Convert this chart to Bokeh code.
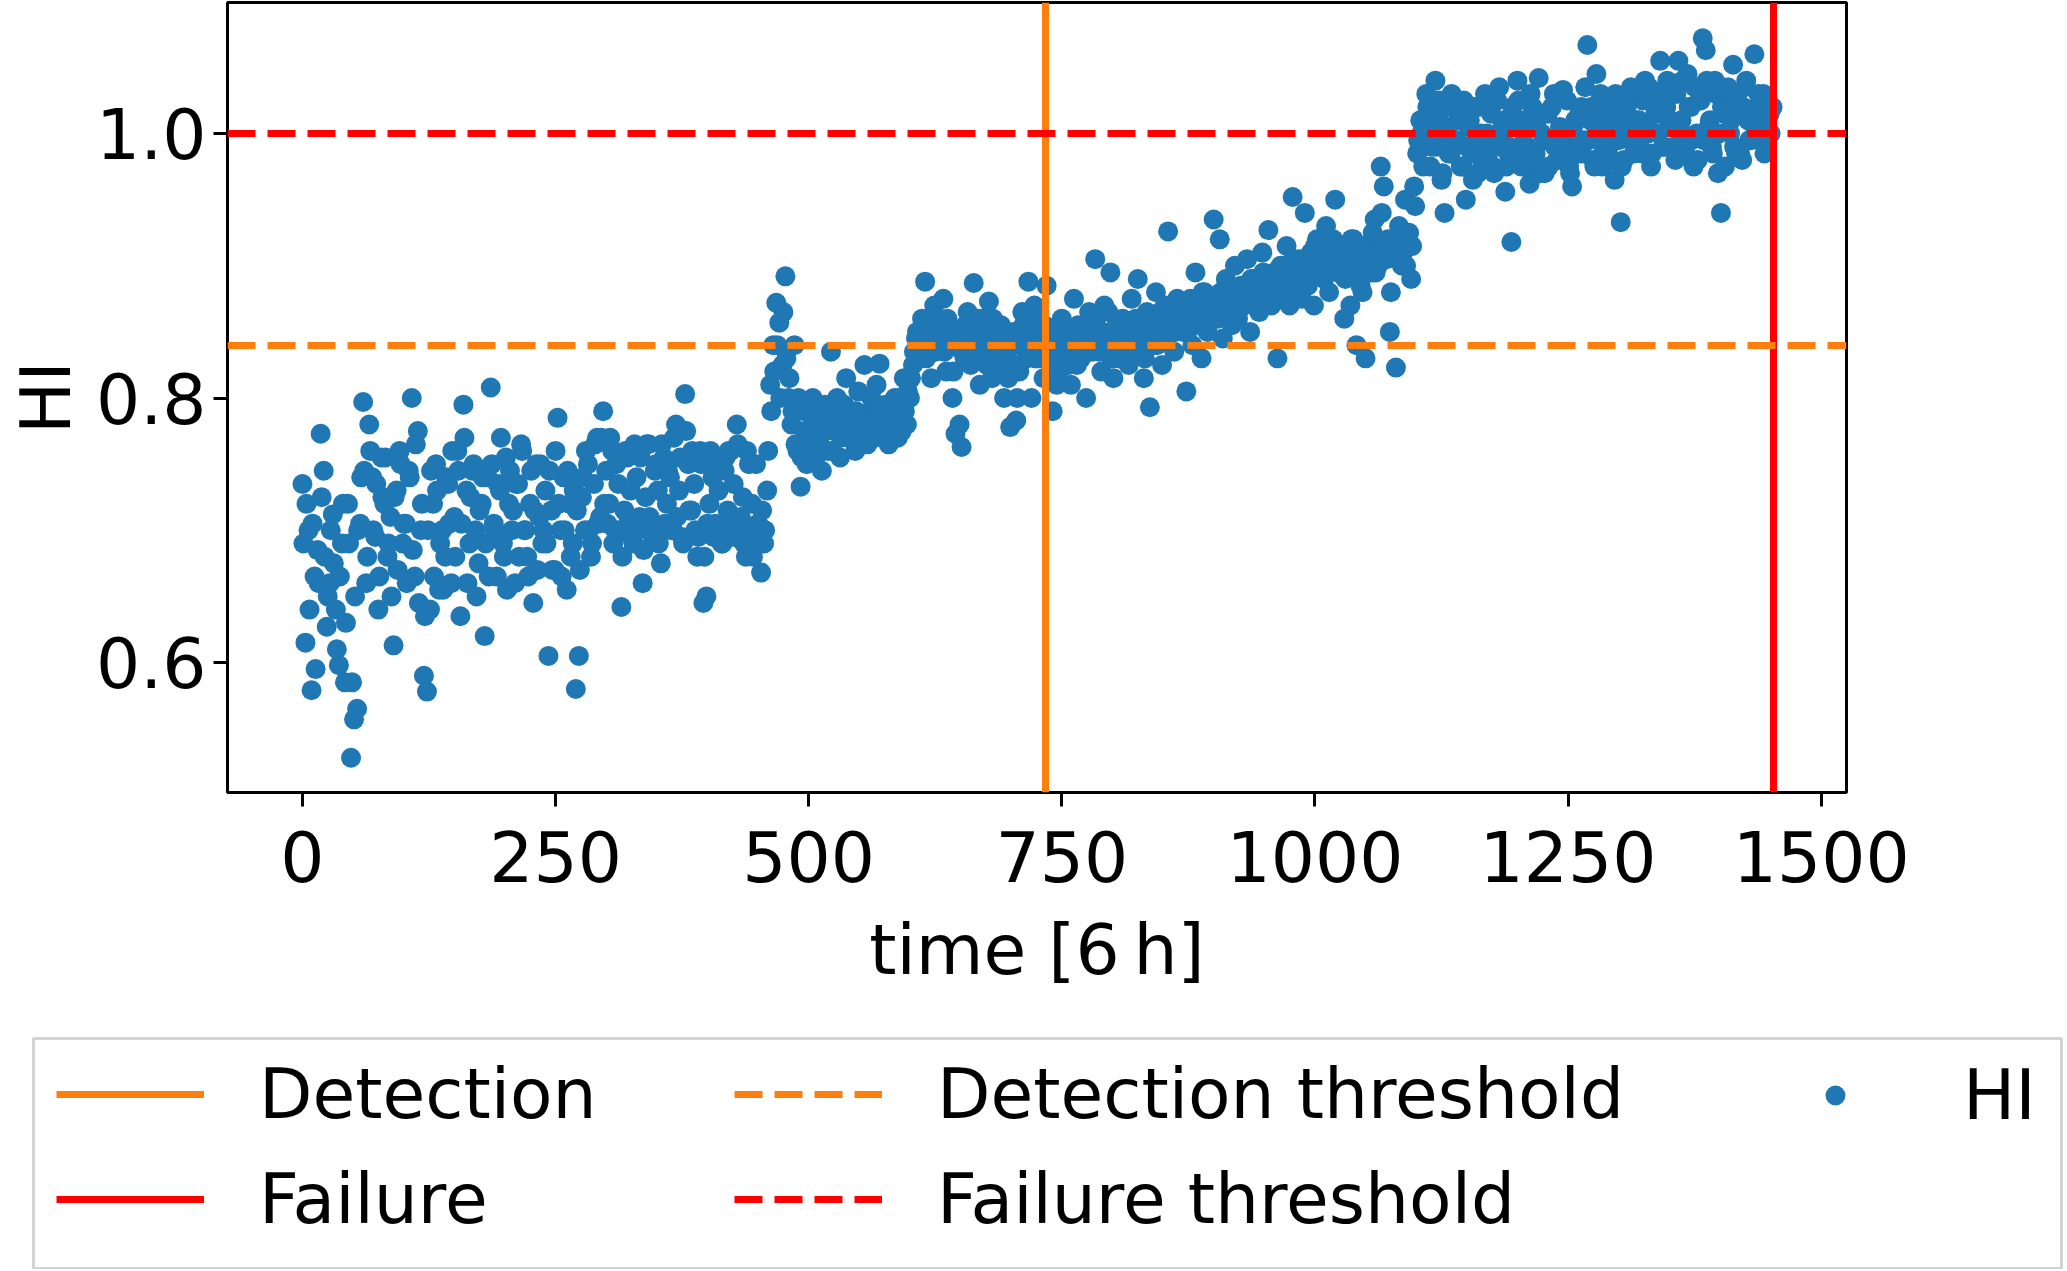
from bokeh.plotting import figure
from bokeh.models import Legend, LegendItem, FixedTicker, NumeralTickFormatter, Range1d
from bokeh.embed import file_html
from bokeh.resources import INLINE

# ---------------- data ----------------
# HI samples at t = 0, 3, 6, ...
hi_values_a = [
    0.735, 0.615, 0.700, 0.579, 0.665, 0.685, 0.773, 0.745, 0.627, 0.660,
    0.712, 0.640, 0.598, 0.690, 0.585, 0.720, 0.528, 0.557, 0.565, 0.705,
    0.797, 0.660, 0.780, 0.740, 0.695, 0.640, 0.755, 0.720, 0.680, 0.710,
    0.613, 0.730, 0.760, 0.690, 0.705, 0.745, 0.800, 0.665, 0.775, 0.700,
    0.590, 0.578, 0.640, 0.720, 0.750, 0.655, 0.700, 0.680, 0.735, 0.660,
    0.710, 0.760, 0.635, 0.795, 0.730, 0.690, 0.745, 0.700, 0.675, 0.720,
    0.620, 0.740, 0.808, 0.705, 0.665, 0.730, 0.690, 0.755, 0.720, 0.700,
    0.660, 0.735, 0.765, 0.700, 0.680, 0.720, 0.645, 0.750, 0.710, 0.690,
    0.730, 0.605, 0.715, 0.670, 0.785, 0.700, 0.740, 0.655, 0.720, 0.690,
    0.580, 0.605, 0.725, 0.700, 0.750, 0.680, 0.735, 0.770, 0.710, 0.790,
    0.745, 0.720, 0.760, 0.700, 0.735, 0.642, 0.715, 0.755, 0.730, 0.690,
    0.740, 0.710, 0.660, 0.725, 0.765, 0.700, 0.745, 0.730, 0.675, 0.755,
    0.720, 0.740, 0.700, 0.780, 0.730, 0.695, 0.803, 0.750, 0.715, 0.735,
    0.680, 0.760, 0.645, 0.650, 0.720, 0.740, 0.705, 0.730, 0.690, 0.745,
    0.715, 0.760, 0.735, 0.780, 0.700, 0.725, 0.680, 0.750, 0.720, 0.695,
    0.705, 0.668, 0.690, 0.730, 0.810, 0.840, 0.872, 0.857, 0.825, 0.892,
    0.800, 0.780, 0.840, 0.760, 0.733, 0.790, 0.750, 0.770, 0.800, 0.755,
    0.780, 0.745, 0.795, 0.760, 0.835, 0.775, 0.800, 0.755, 0.785, 0.815,
    0.770, 0.790, 0.760, 0.805, 0.775, 0.825, 0.765, 0.790, 0.780, 0.810,
    0.826, 0.775, 0.795, 0.765, 0.785, 0.800, 0.770, 0.790, 0.815, 0.780,
    0.800, 0.825, 0.845, 0.830, 0.860, 0.888, 0.840, 0.815, 0.870, 0.850,
    0.840, 0.875, 0.820, 0.855, 0.800, 0.773, 0.845, 0.763, 0.830, 0.865,
    0.825, 0.887, 0.850, 0.810, 0.860, 0.835, 0.873, 0.815, 0.845, 0.820,
    0.855, 0.800, 0.835, 0.778, 0.850, 0.783, 0.820, 0.865, 0.840, 0.888,
    0.800, 0.870, 0.830, 0.850, 0.815, 0.885, 0.845, 0.790, 0.835, 0.820,
    0.860, 0.830, 0.845, 0.810, 0.875, 0.825, 0.840, 0.855, 0.800, 0.865,
    0.835, 0.905, 0.850, 0.820, 0.870, 0.840, 0.895, 0.815, 0.855, 0.830,
    0.860, 0.845, 0.825, 0.875, 0.835, 0.890, 0.850, 0.815, 0.865, 0.793,
    0.840, 0.880, 0.855, 0.825, 0.870, 0.926, 0.850, 0.835, 0.875, 0.860,
    0.850, 0.805, 0.870, 0.840, 0.895, 0.860, 0.830, 0.880, 0.850, 0.870,
    0.935, 0.865, 0.920, 0.845, 0.890, 0.875, 0.855, 0.900, 0.860, 0.885,
    0.870, 0.905, 0.850, 0.890, 0.875, 0.865, 0.910, 0.880, 0.927, 0.870,
    0.895, 0.830, 0.900, 0.880, 0.915, 0.870, 0.952, 0.890, 0.905, 0.875,
    0.940, 0.885, 0.910, 0.870, 0.920, 0.895, 0.900, 0.930, 0.880, 0.910,
    0.950, 0.895, 0.915, 0.860, 0.905, 0.870, 0.920, 0.840, 0.900, 0.880,
    0.830, 0.915, 0.895, 0.935, 0.900, 0.975, 0.960, 0.905, 0.850, 0.920,
    0.823, 0.930, 0.900, 0.950, 0.915, 0.890, 0.960, 0.985, 1.010, 0.975,
    1.030, 1.000, 0.990, 1.040, 1.015, 0.965, 0.940, 1.000, 0.985, 1.020,
    0.995, 1.010, 0.975, 0.950, 1.005, 0.985, 1.020, 0.970, 1.000, 0.990,
    1.000, 1.025, 0.975, 0.990, 1.035, 1.005, 0.956, 0.985, 0.918, 1.010,
    1.040, 0.990, 1.000, 0.975, 0.962, 1.020, 0.985, 1.042, 1.000, 0.970,
    1.015, 0.995, 1.030, 0.980, 1.005, 1.033, 0.990, 0.975, 0.960, 1.010,
    0.985, 1.020, 0.995, 1.067, 1.010, 0.980, 1.045, 1.000, 0.975, 1.025,
    0.990, 1.015, 0.965, 1.005, 0.933, 0.980, 1.020, 0.995, 1.030, 1.000,
    1.010, 0.985, 1.040, 1.000, 0.975, 1.025, 1.015, 1.055, 0.990, 1.020,
    1.005, 1.035, 0.980, 1.055, 1.010, 0.995, 1.045, 1.020, 0.975, 1.000,
    1.030, 1.072, 1.063, 1.005, 0.990, 1.040, 0.970, 0.940, 1.015, 1.025,
    1.000, 1.052, 0.985, 1.020, 0.980, 1.035, 1.010, 0.995, 1.060, 1.020,
    1.005, 1.030, 0.990, 1.015, 1.020,
]
# HI samples at t = 1, 4, 7, ...
hi_values_b = [
    0.690, 0.720, 0.640, 0.705, 0.595, 0.660, 0.725, 0.680, 0.650, 0.700,
    0.675, 0.610, 0.665, 0.720, 0.630, 0.690, 0.585, 0.650, 0.700, 0.740,
    0.745, 0.680, 0.760, 0.700, 0.735, 0.665, 0.725, 0.755, 0.690, 0.650,
    0.725, 0.670, 0.750, 0.705, 0.660, 0.740, 0.685, 0.765, 0.645, 0.720,
    0.635, 0.700, 0.745, 0.665, 0.730, 0.690, 0.655, 0.740, 0.705, 0.760,
    0.680, 0.745, 0.705, 0.770, 0.660, 0.725, 0.750, 0.650, 0.715, 0.740,
    0.690, 0.665, 0.750, 0.700, 0.735, 0.770, 0.680, 0.655, 0.745, 0.715,
    0.735, 0.680, 0.760, 0.700, 0.665, 0.745, 0.715, 0.670, 0.750, 0.700,
    0.690, 0.745, 0.670, 0.760, 0.720, 0.665, 0.700, 0.745, 0.680, 0.730,
    0.715, 0.670, 0.740, 0.760, 0.700, 0.690, 0.765, 0.705, 0.770, 0.720,
    0.705, 0.770, 0.690, 0.750, 0.700, 0.680, 0.760, 0.710, 0.695, 0.765,
    0.700, 0.755, 0.685, 0.765, 0.710, 0.695, 0.750, 0.690, 0.765, 0.705,
    0.745, 0.700, 0.770, 0.710, 0.755, 0.690, 0.775, 0.715, 0.760, 0.700,
    0.695, 0.750, 0.680, 0.705, 0.760, 0.695, 0.750, 0.700, 0.690, 0.755,
    0.760, 0.705, 0.695, 0.765, 0.710, 0.690, 0.760, 0.700, 0.680, 0.750,
    0.690, 0.715, 0.700, 0.760, 0.790, 0.820, 0.840, 0.800, 0.865, 0.830,
    0.815, 0.790, 0.765, 0.800, 0.755, 0.775, 0.790, 0.765, 0.780, 0.770,
    0.765, 0.790, 0.775, 0.780, 0.760, 0.790, 0.775, 0.770, 0.795, 0.780,
    0.785, 0.770, 0.790, 0.780, 0.765, 0.785, 0.775, 0.800, 0.770, 0.785,
    0.790, 0.780, 0.770, 0.795, 0.775, 0.785, 0.800, 0.775, 0.790, 0.805,
    0.815, 0.835, 0.850, 0.840, 0.855, 0.830, 0.860, 0.845, 0.835, 0.855,
    0.850, 0.835, 0.860, 0.840, 0.820, 0.850, 0.780, 0.835, 0.855, 0.840,
    0.845, 0.830, 0.860, 0.840, 0.850, 0.825, 0.845, 0.860, 0.835, 0.850,
    0.830, 0.845, 0.815, 0.840, 0.825, 0.800, 0.840, 0.855, 0.830, 0.860,
    0.845, 0.830, 0.860, 0.840, 0.855, 0.835, 0.825, 0.850, 0.810, 0.840,
    0.835, 0.850, 0.825, 0.845, 0.840, 0.855, 0.830, 0.845, 0.835, 0.850,
    0.845, 0.860, 0.835, 0.850, 0.840, 0.865, 0.830, 0.845, 0.855, 0.840,
    0.850, 0.835, 0.855, 0.845, 0.860, 0.840, 0.850, 0.830, 0.855, 0.845,
    0.855, 0.840, 0.865, 0.850, 0.845, 0.870, 0.860, 0.850, 0.865, 0.855,
    0.865, 0.850, 0.875, 0.860, 0.870, 0.855, 0.880, 0.865, 0.875, 0.860,
    0.875, 0.860, 0.880, 0.870, 0.865, 0.885, 0.875, 0.860, 0.880, 0.870,
    0.885, 0.875, 0.890, 0.870, 0.885, 0.880, 0.895, 0.875, 0.885, 0.890,
    0.880, 0.895, 0.885, 0.900, 0.890, 0.880, 0.905, 0.895, 0.885, 0.900,
    0.905, 0.890, 0.900, 0.915, 0.895, 0.905, 0.890, 0.910, 0.900, 0.920,
    0.905, 0.915, 0.900, 0.890, 0.910, 0.920, 0.895, 0.905, 0.885, 0.915,
    0.900, 0.910, 0.925, 0.895, 0.915, 0.940, 0.905, 0.920, 0.880, 0.910,
    0.905, 0.920, 0.910, 0.900, 0.925, 0.915, 0.945, 0.995, 1.000, 0.990,
    1.020, 0.975, 1.010, 0.990, 1.025, 0.970, 1.005, 0.985, 1.030, 0.995,
    1.015, 0.975, 1.025, 0.990, 1.010, 0.965, 0.995, 1.020, 0.980, 1.030,
    0.985, 1.015, 0.970, 1.025, 0.995, 1.010, 0.975, 0.990, 1.020, 0.980,
    1.025, 0.975, 1.010, 0.990, 1.030, 0.980, 1.005, 0.970, 1.015, 0.995,
    0.975, 1.020, 0.990, 1.030, 0.980, 0.995, 1.025, 0.970, 1.005, 0.990,
    1.015, 0.985, 1.035, 0.995, 1.020, 0.975, 1.010, 1.030, 0.990, 1.005,
    1.020, 0.980, 1.030, 0.995, 0.975, 1.015, 1.000, 1.035, 0.985, 1.010,
    0.995, 1.025, 1.005, 1.035, 0.985, 1.015, 1.000, 1.030, 0.990, 1.040,
    1.010, 0.990, 1.030, 1.005, 1.040, 0.985, 1.020, 0.995, 1.035, 0.980,
    1.025, 0.995, 1.040, 1.010, 0.985, 1.030, 1.000, 1.020, 0.975, 1.035,
    1.010, 0.990, 1.030, 0.985, 1.020, 1.040, 0.995, 1.015, 1.000, 1.030,
    1.010, 0.985, 1.025, 1.000,
]
time_step = 3  # each list holds every third time step (units of 6 h)
time_a = [i * time_step for i in range(len(hi_values_a))]
time_b = [i * time_step + 1 for i in range(len(hi_values_b))]
time_values = time_a + time_b
hi_values = hi_values_a + hi_values_b

detection_time = 734
failure_time = 1453
detection_threshold = 0.84
failure_threshold = 1.0

x_ticks = [0, 250, 500, 750, 1000, 1250, 1500]
y_ticks = [0.6, 0.8, 1.0]
legend_labels = ["Detection", "Failure", "Detection threshold", "Failure threshold", "HI"]

# ---------------- styles ----------------
BLUE = "#1f77b4"
ORANGE = "#ff7f0e"
RED = "#ff0000"
FONT = "DejaVu Sans"
FS = "69.5px"
LW = 7
DASH = "28 12"

# ---------------- main plot ----------------
p = figure(width=2060, height=1037,
           x_range=(-74, 1525), y_range=(0.5017, 1.0991),
           min_border_left=227, min_border_right=214,
           min_border_top=2, min_border_bottom=245,
           output_backend="svg", toolbar_location=None,
           background_fill_color="white", border_fill_color="white")

p.scatter(time_values, hi_values, size=20, fill_color=BLUE, line_color=None)
p.vspan(x=[detection_time], line_color=ORANGE, line_width=LW)
p.vspan(x=[failure_time], line_color=RED, line_width=LW)
p.hspan(y=[detection_threshold], line_color=ORANGE, line_width=LW, line_dash=DASH)
p.hspan(y=[failure_threshold], line_color=RED, line_width=LW, line_dash=DASH)

p.grid.visible = False
p.outline_line_color = "black"
p.outline_line_width = 3
p.outline_line_alpha = 1.0

p.xaxis.ticker = FixedTicker(ticks=x_ticks)
p.yaxis.ticker = FixedTicker(ticks=y_ticks)
p.xaxis.formatter = NumeralTickFormatter(format="0")
p.yaxis.formatter = NumeralTickFormatter(format="0.0")
p.xaxis.axis_label = "time [6\u2009h]"
p.yaxis.axis_label = "HI"
for ax in (p.xaxis, p.yaxis):
    ax.axis_line_color = None
    ax.major_tick_in = 0
    ax.major_tick_out = 14
    ax.major_tick_line_width = 3
    ax.major_tick_line_color = "black"
    ax.minor_tick_line_color = None
    ax.major_label_text_font = FONT
    ax.major_label_text_font_size = FS
    ax.major_label_text_color = "black"
    ax.axis_label_text_font = FONT
    ax.axis_label_text_font_size = FS
    ax.axis_label_text_font_style = "normal"
    ax.axis_label_text_color = "black"
p.xaxis.major_label_standoff = 24
p.xaxis.axis_label_standoff = 24
p.yaxis.major_label_standoff = 7
p.yaxis.axis_label_standoff = 7

# ---------------- legend panel (separate root below the plot) ----------------
leg = figure(width=2065, height=232,
             min_border_left=33, min_border_right=4,
             min_border_top=1, min_border_bottom=1,
             x_range=Range1d(0, 1), y_range=Range1d(0, 1),
             x_axis_location=None, y_axis_location=None,
             output_backend="svg", toolbar_location=None,
             background_fill_color="white", border_fill_color="white")
leg.grid.visible = False
leg.outline_line_color = "#d3d3d3"
leg.outline_line_width = 3

# sample glyphs for the legend keys (no visible data)
nan = [float("nan")]
k_det = leg.line(nan, nan, line_color=ORANGE, line_width=LW)
k_fail = leg.line(nan, nan, line_color=RED, line_width=LW)
k_det_th = leg.line(nan, nan, line_color=ORANGE, line_width=LW, line_dash=DASH)
k_fail_th = leg.line(nan, nan, line_color=RED, line_width=LW, line_dash=DASH)
k_hi = leg.scatter(nan, nan, size=20, fill_color=BLUE, line_color=None)


def add_legend(items, loc, glyph_width=148, standoff=55):
    lg = Legend(items=items, location=loc, orientation="vertical",
                glyph_width=glyph_width, glyph_height=80, label_height=80,
                label_standoff=standoff, spacing=24, padding=0, margin=0,
                border_line_color=None, background_fill_alpha=0.0,
                label_text_font=FONT, label_text_font_size=FS,
                label_text_color="black")
    leg.add_layout(lg, "center")


add_legend([LegendItem(label=legend_labels[0], renderers=[k_det]),
            LegendItem(label=legend_labels[1], renderers=[k_fail])], (23, 29))
add_legend([LegendItem(label=legend_labels[2], renderers=[k_det_th]),
            LegendItem(label=legend_labels[3], renderers=[k_fail_th])], (701, 29))
add_legend([LegendItem(label=legend_labels[4], renderers=[k_hi])], (1777, 133),
           glyph_width=50, standoff=103)

open("out.html", "w").write(file_html([p, leg], INLINE))
